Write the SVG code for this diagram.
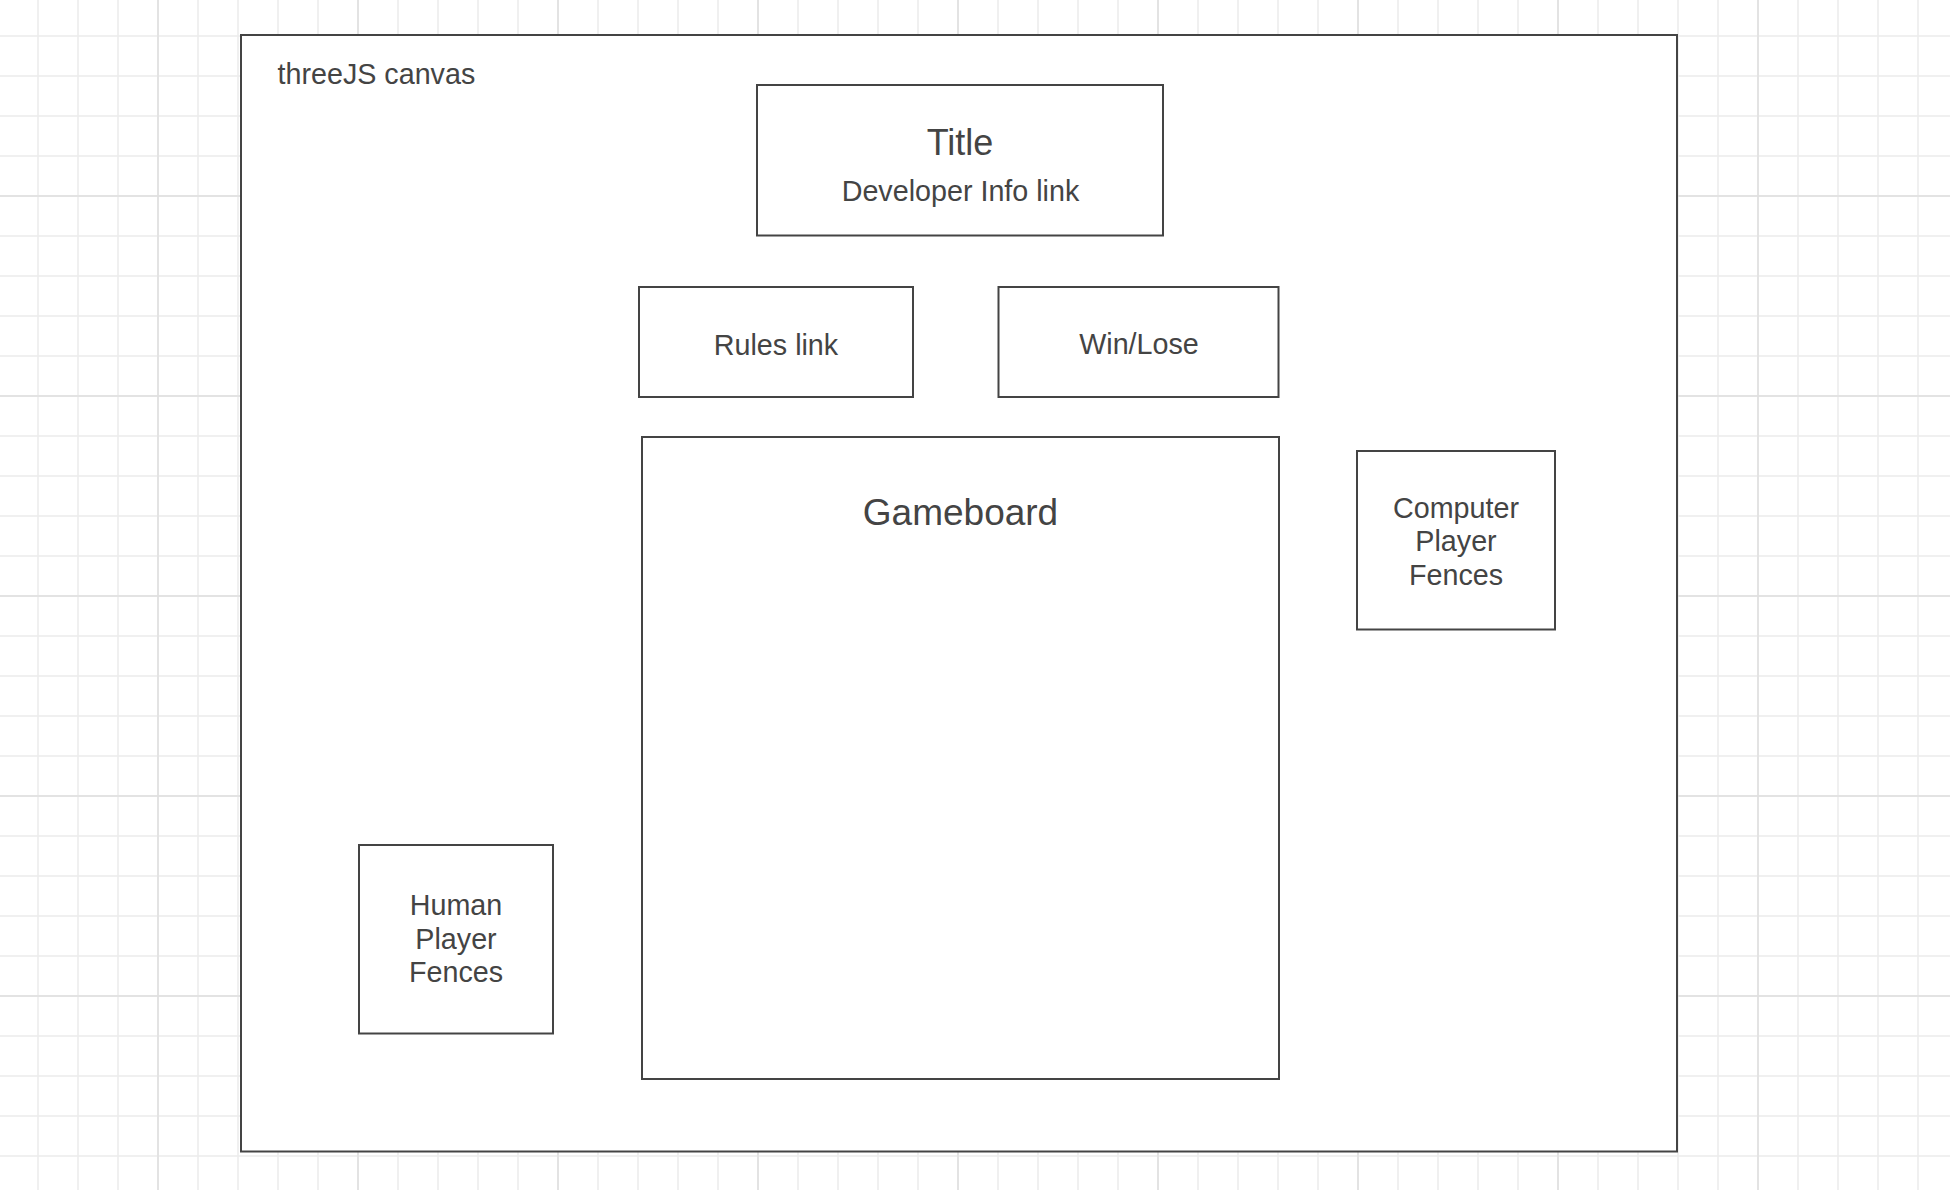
<svg xmlns="http://www.w3.org/2000/svg" width="1950" height="1190" viewBox="0 0 1950 1190">
  <style>
    .box { fill: #ffffff; stroke: #444444; stroke-width: 2; }
    .t { font-family: "Liberation Sans", Arial, sans-serif; fill: #444444; font-size: 28.7px; }
    .c { text-anchor: middle; }
  </style>
  <defs>
    <pattern id="minor" patternUnits="userSpaceOnUse" x="18" y="16" width="40" height="40">
      <path d="M20 0V40M0 20H40" stroke="#ececec" stroke-width="1.5" fill="none"/>
    </pattern>
    <pattern id="major" patternUnits="userSpaceOnUse" x="58" y="96" width="200" height="200">
      <path d="M100 0V200M0 100H200" stroke="#e0e0e0" stroke-width="1.5" fill="none"/>
    </pattern>
  </defs>
  <rect width="1950" height="1190" fill="#ffffff"/>
  <rect width="1950" height="1190" fill="url(#minor)"/>
  <rect width="1950" height="1190" fill="url(#major)"/>

  <g id="canvas">
    <rect class="box" x="241" y="35" width="1436" height="1116.5"/>
    <text class="t" x="277.5" y="84">threeJS canvas</text>
  </g>
  <g id="title">
    <rect class="box" x="757" y="85" width="406" height="150.5"/>
    <text class="t c" x="960" y="154.5" style="font-size:36px">Title</text>
    <text class="t c" x="960.5" y="200.5">Developer Info link</text>
  </g>
  <g id="rules">
    <rect class="box" x="639" y="287" width="274" height="110"/>
    <text class="t c" x="776" y="354.5">Rules link</text>
  </g>
  <g id="winlose">
    <rect class="box" x="998.5" y="287" width="280" height="110"/>
    <text class="t c" x="1139" y="354">Win/Lose</text>
  </g>
  <g id="gameboard">
    <rect class="box" x="642" y="437" width="637" height="642"/>
    <text class="t c" x="960.5" y="525" style="font-size:37px">Gameboard</text>
  </g>
  <g id="computer">
    <rect class="box" x="1357" y="451" width="198" height="178.5"/>
    <text class="t c"><tspan x="1456" y="517.5">Computer</tspan><tspan x="1456" y="551">Player</tspan><tspan x="1456" y="584.5">Fences</tspan></text>
  </g>
  <g id="human">
    <rect class="box" x="359" y="845" width="194" height="188.5"/>
    <text class="t c"><tspan x="456" y="915">Human</tspan><tspan x="456" y="948.5">Player</tspan><tspan x="456" y="982">Fences</tspan></text>
  </g>
  <g id="connectors"/>
</svg>
